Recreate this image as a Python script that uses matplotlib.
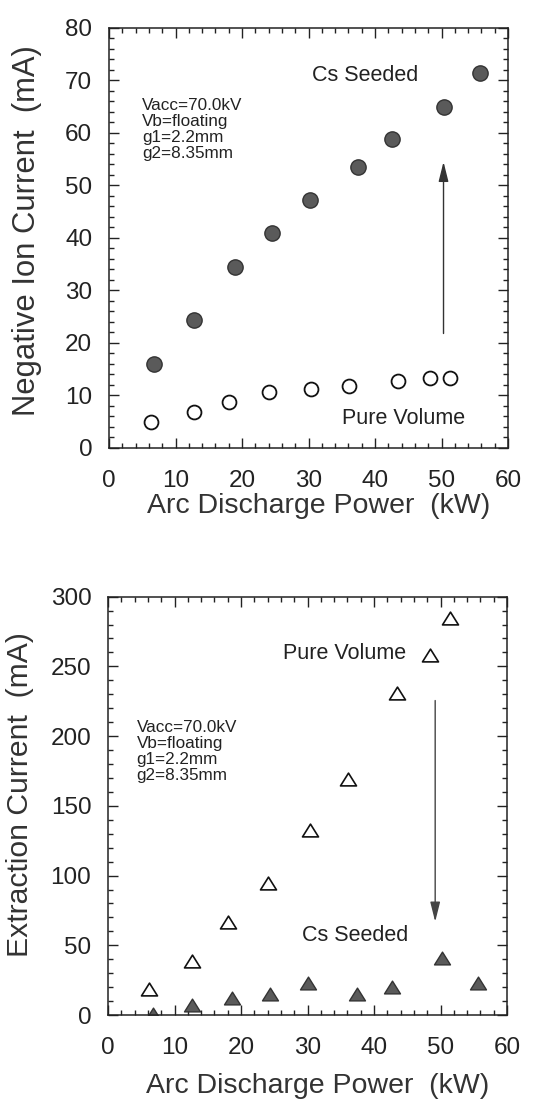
import matplotlib
matplotlib.use('Agg')
import matplotlib.pyplot as plt
from matplotlib.path import Path
from matplotlib.ticker import MultipleLocator

plt.rcParams['font.family'] = ['Liberation Sans', 'DejaVu Sans']

# top panel: negative ion current
power_cs = [6.8, 12.8, 18.9, 24.5, 30.2, 37.4, 42.6, 50.4, 55.8]
ion_cs = [16.0, 24.4, 34.4, 40.9, 47.2, 53.5, 58.8, 65.0, 71.4]
power_pv = [6.3, 12.8, 18.1, 24.1, 30.4, 36.1, 43.4, 48.3, 51.2]
ion_pv = [5.0, 6.9, 8.8, 10.7, 11.2, 11.8, 12.8, 13.3, 13.3]

# bottom panel: extraction current
power_pv2 = [6.2, 12.7, 18.1, 24.1, 30.4, 36.1, 43.4, 48.4, 51.4]
ext_pv = [19, 39, 67, 95, 133, 169, 231, 258, 285]
power_cs2 = [6.8, 12.7, 18.7, 24.3, 30.1, 37.4, 42.7, 50.3, 55.7]
ext_cs = [1, 7, 12, 15, 23, 15, 20, 41, 23]

params = 'Vacc=70.0kV\nVb=floating\ng1=2.2mm\ng2=8.35mm'

# slightly flattened triangle, closed
tri = Path([(-1, -0.8), (1, -0.8), (0, 0.8), (0, 0)], closed=True)

fig = plt.figure(figsize=(5.36, 10.99), dpi=100)
ax1 = fig.add_axes([0.2034, 0.5924, 0.7444, 0.3822])
ax2 = fig.add_axes([0.2015, 0.0764, 0.7444, 0.3807])


def style(ax, ymax, ymajor, yminor):
    ax.set_xlim(0, 60)
    ax.set_ylim(0, ymax)
    ax.xaxis.set_major_locator(MultipleLocator(10))
    ax.xaxis.set_minor_locator(MultipleLocator(2))
    ax.yaxis.set_major_locator(MultipleLocator(ymajor))
    ax.yaxis.set_minor_locator(MultipleLocator(yminor))
    ax.tick_params(which='both', direction='in', top=True, right=True, width=1, colors='#222222')
    ax.tick_params(which='major', length=7)
    ax.tick_params(which='minor', length=3.5)
    ax.tick_params(axis='x', which='major', pad=16, labelsize=17.5)
    ax.tick_params(axis='y', which='major', pad=12, labelsize=17.5)
    for s in ax.spines.values():
        s.set_linewidth(1.1)
        s.set_color('#222222')
    ax.set_xlabel('Arc Discharge Power  (kW)', fontsize=20.5, color='#333333')
    ax.xaxis.label.set_va('center')


style(ax1, 80, 10, 2)
ax1.plot(power_cs, ion_cs, 'o', ms=11, mfc='#5a5a5a', mec='#333333', mew=1)
ax1.plot(power_pv, ion_pv, 'o', ms=10, mfc='white', mec='#111111', mew=1.3)
ax1.annotate('', xy=(50.3, 54.5), xytext=(50.3, 21.8),
             arrowprops=dict(arrowstyle='-|>,head_length=0.6,head_width=0.15',
                             color='#333333', lw=1, mutation_scale=20, shrinkA=0, shrinkB=0))
ax1.text(30.5, 70.9, 'Cs Seeded', fontsize=15.5, va='center', color='#222222')
ax1.text(35.0, 5.6, 'Pure Volume', fontsize=15.5, va='center', color='#222222')
ax1.text(5.0, 66.6, params, fontsize=12.3, va='top', linespacing=1.08, color='#222222')
ax1.set_ylabel('Negative Ion Current  (mA)', fontsize=22.3, color='#333333')
ax1.yaxis.label.set_va('center')
ax1.yaxis.set_label_coords(-0.2055, 0.517)
ax1.xaxis.set_label_coords(0.526, -0.138)

style(ax2, 300, 50, 10)
ax2.plot(power_pv2, ext_pv, marker=tri, ls='none', ms=11.5, mfc='white', mec='#111111', mew=1.2)
ax2.plot(power_cs2, ext_cs, marker=tri, ls='none', ms=11.5, mfc='#5a5a5a', mec='#333333', mew=1)
ax2.annotate('', xy=(49.2, 66.9), xytext=(49.2, 225.5),
             arrowprops=dict(arrowstyle='-|>,head_length=0.6,head_width=0.15',
                             color='#444444', lw=1, mutation_scale=20, shrinkA=0, shrinkB=0))
ax2.text(26.3, 259.4, 'Pure Volume', fontsize=15.5, va='center', color='#222222')
ax2.text(29.1, 56.7, 'Cs Seeded', fontsize=15.5, va='center', color='#222222')
ax2.text(4.3, 211.5, params, fontsize=12.3, va='top', linespacing=1.08, color='#222222')
ax2.set_ylabel('Extraction Current  (mA)', fontsize=21.7, color='#333333')
ax2.yaxis.label.set_va('center')
ax2.yaxis.set_label_coords(-0.2206, 0.526)
ax2.xaxis.set_label_coords(0.526, -0.170)

fig.savefig('out.png', dpi=100)
